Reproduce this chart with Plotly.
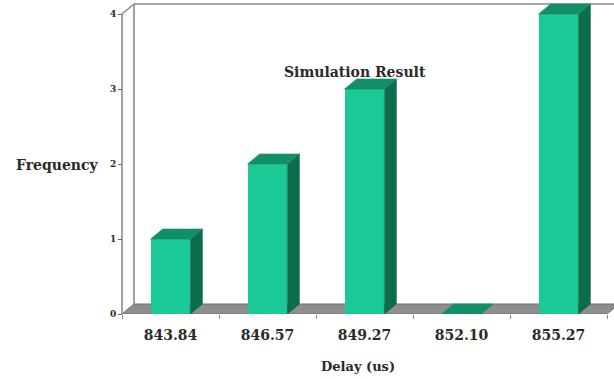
import plotly.graph_objects as go

# Histogram of simulated delays
delay_labels = ["843.84", "846.57", "849.27", "852.10", "855.27"]
frequency = [1, 2, 3, 0, 4]
y_ticks = [0, 1, 2, 3, 4]

# Figure geometry (pixels)
W, H = 614, 379
ML, MR, MT, MB = 110, 0, 2, 65
PX_PER_CAT = 97.0
PX_PER_UNIT = 75.0
FRONT_LEFT_PX = 122.0          # where the front y-axis sits
DEPTH_PX_X, DEPTH_PX_Y = 12.0, 10.0

plot_w = W - ML - MR
plot_h = H - MT - MB
x0 = -0.5 - (FRONT_LEFT_PX - ML) / PX_PER_CAT
x1 = x0 + plot_w / PX_PER_CAT
y0 = 0.0
y1 = plot_h / PX_PER_UNIT

DX = DEPTH_PX_X / PX_PER_CAT
DY = DEPTH_PX_Y / PX_PER_UNIT
BAR_W = 0.41
HW = BAR_W / 2

FRONT = "#1bc997"
SIDE = "#0b6c4e"
TOP = "#138f67"
WALL = "#8a8a8a"
FLOOR = "#8e8e8e"
TXT = "#2a2a2a"
FONT = "DejaVu Serif"

xs = list(range(len(delay_labels)))
n = len(xs)

fig = go.Figure()

# front faces
fig.add_trace(go.Bar(
    x=xs, y=frequency, width=BAR_W,
    marker=dict(color=FRONT, line=dict(width=0)),
    hoverinfo="skip", showlegend=False,
))

# right side faces and top faces of each bar
for c, v in zip(xs, frequency):
    if v > 0:
        fig.add_trace(go.Scatter(
            x=[c + HW, c + HW + DX, c + HW + DX, c + HW, c + HW],
            y=[0, DY, v + DY, v, 0],
            mode="lines", fill="toself", fillcolor=SIDE,
            line=dict(width=0.6, color=SIDE),
            hoverinfo="skip", showlegend=False,
        ))
    fig.add_trace(go.Scatter(
        x=[c - HW, c - HW + DX, c + HW + DX, c + HW, c - HW],
        y=[v, v + DY, v + DY, v, v],
        mode="lines", fill="toself", fillcolor=TOP,
        line=dict(width=0.6, color=TOP),
        hoverinfo="skip", showlegend=False,
    ))

shapes = []
# floor
shapes.append(dict(
    type="path", xref="x", yref="y", layer="below",
    path=f"M {-0.5},0 L {n - 0.5},0 L {n - 0.5 + DX},{DY} L {-0.5 + DX},{DY} Z",
    fillcolor=FLOOR, line=dict(color="#6e6e6e", width=1),
))
# back wall outline
wall_lines = [
    (-0.5 + DX, DY, -0.5 + DX, 4 + DY),
    (-0.5 + DX, 4 + DY, x1 + 1, 4 + DY),
    (-0.5, 4, -0.5 + DX, 4 + DY),
    (-0.5, 0, -0.5, 4),
]
for ax_, ay_, bx_, by_ in wall_lines:
    shapes.append(dict(
        type="line", xref="x", yref="y", layer="below",
        x0=ax_, y0=ay_, x1=bx_, y1=by_,
        line=dict(color=WALL, width=1.6),
    ))


def px_to_paper_x(px):
    return (px - ML) / plot_w


def px_to_paper_y(py):
    return 1 - (py - MT) / plot_h


annotations = [
    dict(text="Simulation Result", x=px_to_paper_x(355), y=px_to_paper_y(72),
         xref="paper", yref="paper", showarrow=False,
         xanchor="center", yanchor="middle",
         font=dict(family=FONT, size=14, color=TXT, weight="bold")),
    dict(text="Frequency", x=px_to_paper_x(101), y=px_to_paper_y(165),
         xref="paper", yref="paper", showarrow=False,
         xanchor="right", yanchor="middle",
         font=dict(family=FONT, size=14, color=TXT, weight="bold")),
    dict(text="Delay (us)", x=px_to_paper_x(358), y=px_to_paper_y(366),
         xref="paper", yref="paper", showarrow=False,
         xanchor="center", yanchor="middle",
         font=dict(family=FONT, size=13, color=TXT, weight="bold")),
]

fig.update_layout(
    width=W, height=H,
    margin=dict(l=ML, r=MR, t=MT, b=MB, pad=0),
    paper_bgcolor="white", plot_bgcolor="white",
    showlegend=False, bargap=0,
    shapes=shapes, annotations=annotations,
    xaxis=dict(
        range=[x0, x1], showgrid=False, zeroline=False, showline=False,
        tickmode="array", tickvals=xs, ticktext=delay_labels,
        ticks="", ticklabelstandoff=11,
        tickfont=dict(family=FONT, size=14, color=TXT, weight="bold"),
        minor=dict(tickmode="array", tickvals=[i - 0.5 for i in range(n + 1)],
                   ticks="outside", ticklen=4, tickcolor=WALL, tickwidth=1,
                   showgrid=False),
        fixedrange=True,
    ),
    yaxis=dict(
        range=[y0, y1], showgrid=False, zeroline=False, showline=False,
        anchor="free", position=(FRONT_LEFT_PX - ML) / plot_w,
        tickmode="array", tickvals=y_ticks, ticktext=[str(t) for t in y_ticks],
        ticks="outside", ticklen=4, tickcolor="#666666", tickwidth=1,
        tickfont=dict(family=FONT, size=9, color=TXT, weight="bold"),
        fixedrange=True,
    ),
)

fig.write_html("out.html", config=dict(displayModeBar=False))
